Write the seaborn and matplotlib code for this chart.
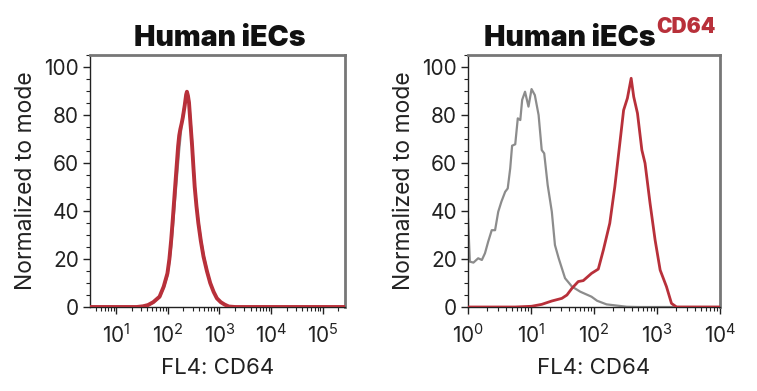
import matplotlib
matplotlib.use("Agg")
import matplotlib.pyplot as plt
from matplotlib.ticker import MultipleLocator, LogLocator, NullFormatter
import seaborn as sns
import pandas as pd

# --- veriler ---
# Sol panel: Human iECs (kontrol ve boyali neredeyse ust uste)
sol_x_gri = [3, 25, 33, 41, 52, 69, 83, 98, 107, 116, 125, 135, 146, 158, 166, 174, 185, 195, 212, 226, 234,
             245, 257, 275, 295, 312, 331, 358, 389, 435, 490, 570, 661, 770, 891, 1060, 1259, 1514, 2000, 270000]
sol_y_gri = [0, 0, 0.2, 0.6, 1.8, 4, 8, 13, 18.5, 25, 33, 42, 51, 60, 65.5, 70, 76, 80, 84.5, 88, 89,
             88, 86, 78, 69, 60, 51, 43, 36, 28.5, 22, 15.5, 10, 6.5, 3.8, 2, 1.1, 0.3, 0, 0]
sol_x_kirmizi = [3, 25, 33, 41, 52, 69, 83, 98, 107, 116, 125, 135, 146, 158, 166, 174, 185, 195, 212, 226, 234,
                 245, 257, 275, 295, 312, 331, 358, 389, 435, 490, 570, 661, 770, 891, 1060, 1259, 1514, 2000, 270000]
sol_y_kirmizi = [0, 0, 0.3, 0.8, 2, 4.3, 8.5, 14, 20, 28, 37, 47, 57, 67, 71.5, 74, 76.5, 79, 84, 88.5, 89.7,
                 88, 85, 76, 67, 58.5, 50, 42, 35, 27.5, 21, 15, 10, 6.3, 3.6, 2, 1, 0.2, 0, 0]

# Sag panel: Human iECs CD64
sag_x_gri = [1.0, 1.035, 1.07, 1.22, 1.45, 1.66, 1.86, 2.09, 2.38, 2.69, 3.02, 3.39, 3.89, 4.27, 4.68,
             5.01, 5.62, 6.17, 6.76, 7.24, 8.04, 9.12, 10.2, 11.5, 13.2, 14.8, 16.2, 18.4, 21.4, 24.0,
             27.5, 34.7, 44.7, 60.3, 91.2, 112, 158, 331, 500, 10000]
sag_y_gri = [37, 28, 18.9, 18.5, 20.3, 19.6, 22.4, 27.2, 32, 32, 39.7, 43.9, 48, 49.4, 57.8,
             67.2, 67.8, 78.6, 77.9, 86.3, 89.7, 83.5, 90.8, 88.3, 80, 65.4, 64, 50.8, 39.7, 25.8,
             20.3, 12, 8.5, 6.4, 4.3, 2.6, 1.1, 0.1, 0, 0]
sag_x_kirmizi = [1, 5.6, 10.2, 14.8, 21.4, 30.9, 37.2, 44.7, 56.2, 67.6, 91.2, 117, 141, 178, 214,
                 257, 295, 339, 389, 427, 490, 575, 646, 776, 933, 1122, 1413, 1698, 2042, 10000]
sag_y_kirmizi = [0, 0, 0.3, 1.1, 2.5, 3.6, 5, 7.8, 10.6, 11, 14, 15.8, 23.8, 34.9, 50.1,
                 68.2, 82, 87, 95.3, 87.6, 80.7, 65.4, 59.9, 43.2, 27.9, 15.4, 8.5, 1.5, 0, 0]

y_tikler = [0, 20, 40, 60, 80, 100]

GRI = "#8c8c8c"
KIRMIZI = "#b8303a"

sns.set_style("white")
plt.rcParams['font.family'] = ['Inter', 'DejaVu Sans']
plt.rcParams['mathtext.fontset'] = 'custom'
plt.rcParams['mathtext.rm'] = 'Inter'
plt.rcParams['mathtext.it'] = 'Inter'

fig = plt.figure(figsize=(7.57, 3.91), dpi=100)
ax1 = fig.add_axes([90 / 757, 84 / 391, 255 / 757, 252 / 391])
ax2 = fig.add_axes([468 / 757, 84 / 391, 252 / 757, 252 / 391])


def ciz(ax, xg, yg, xk, yk, xlim, kalinlik):
    df_g = pd.DataFrame({"x": xg, "y": yg})
    df_k = pd.DataFrame({"x": xk, "y": yk})
    sns.lineplot(data=df_g, x="x", y="y", ax=ax, color=GRI, lw=1.6, sort=False, estimator=None, zorder=2)
    sns.lineplot(data=df_k, x="x", y="y", ax=ax, color=KIRMIZI, lw=kalinlik, sort=False, estimator=None, zorder=3)
    ax.set_xscale("log")
    ax.set_xlim(*xlim)
    ax.set_ylim(0, 105)
    ax.set_yticks(y_tikler)
    ax.yaxis.set_minor_locator(MultipleLocator(5))
    ax.xaxis.set_major_locator(LogLocator(base=10, numticks=12))
    ax.xaxis.set_minor_locator(LogLocator(base=10, subs=range(2, 10), numticks=12))
    ax.xaxis.set_minor_formatter(NullFormatter())
    ax.tick_params(which="major", direction="out", length=5, width=1, color="#222222",
                   labelsize=15, labelcolor="#222222", bottom=True, left=True, pad=3)
    ax.tick_params(which="minor", direction="out", length=3, width=0.8, color="#222222",
                   bottom=True, left=True)
    ax.tick_params(axis="x", which="major", pad=7)
    for s in ["top", "right"]:
        ax.spines[s].set_color("#777777")
        ax.spines[s].set_linewidth(2)
    for s in ["left", "bottom"]:
        ax.spines[s].set_color("#222222")
        ax.spines[s].set_linewidth(1)
    ax.set_xlabel("FL4: CD64", fontsize=16, color="#222222", labelpad=8)
    ax.set_ylabel("Normalized to mode", fontsize=16.5, color="#222222", labelpad=5)


ciz(ax1, sol_x_gri, sol_y_gri, sol_x_kirmizi, sol_y_kirmizi, (3.1, 2.7e5), 2.8)
ciz(ax2, sag_x_gri, sag_y_gri, sag_x_kirmizi, sag_y_kirmizi, (1, 1e4), 2.0)

# basliklar
fig.text(220 / 757, 1 - 38 / 391, "Human iECs", ha="center", va="center",
         fontsize=20.5, fontweight=900, color="#111111")
fig.text(655 / 757, 1 - 38 / 391, "Human iECs", ha="right", va="center",
         fontsize=20.5, fontweight=900, color="#111111")
fig.text(656 / 757, 1 - 27 / 391, "CD64", ha="left", va="center",
         fontsize=15, fontweight=900, color=KIRMIZI)

fig.savefig("out.png", dpi=100)
